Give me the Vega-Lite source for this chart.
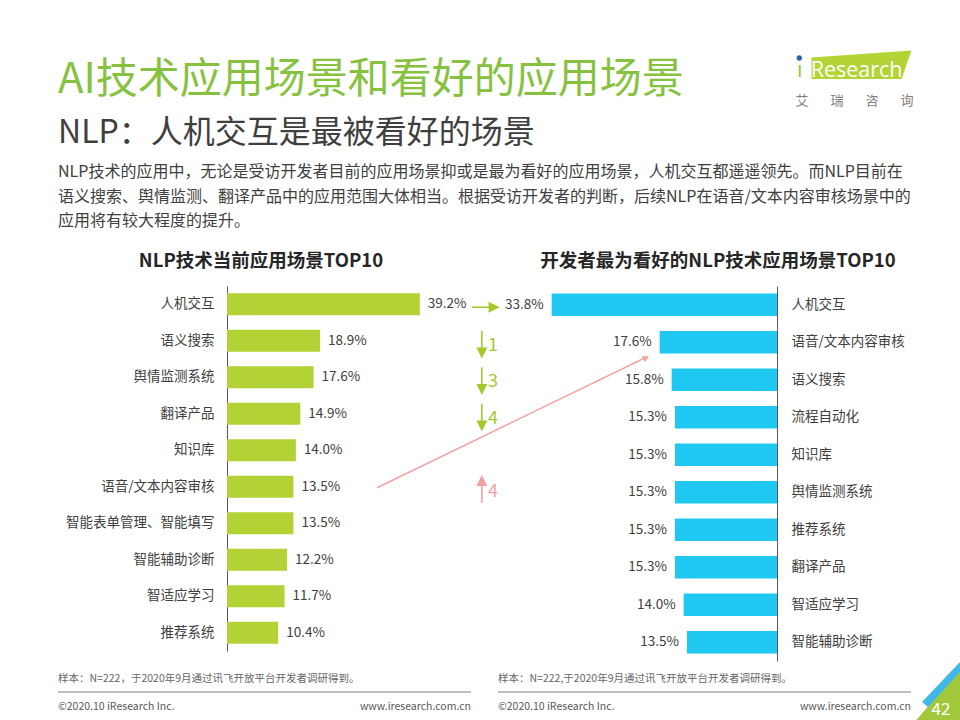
{
  "$schema": "https://vega.github.io/schema/vega-lite/v6.json",
  "background": "white",
  "padding": {"left": 57, "top": 50, "right": 0, "bottom": 0},
  "spacing": 0,
  "datasets": {
    "header": [
      {"kind": "title", "text": "AI技术应用场景和看好的应用场景"},
      {"kind": "subtitle", "text": "NLP：人机交互是最被看好的场景"}
    ],
    "para": [
      {"line": "NLP技术的应用中，无论是受访开发者目前的应用场景抑或是最为看好的应用场景，人机交互都遥遥领先。而NLP目前在"},
      {"line": "语义搜索、舆情监测、翻译产品中的应用范围大体相当。根据受访开发者的判断，后续NLP在语音/文本内容审核场景中的"},
      {"line": "应用将有较大程度的提升。"}
    ],
    "brand": [{"i": "ı", "rest": "Research"}],
    "brandcn": [{"ch": "艾"}, {"ch": "瑞"}, {"ch": "咨"}, {"ch": "询"}],
    "current": [
      {"item": "人机交互", "share": 0.392, "dir": "same", "move": 0, "from": 1, "to": 1},
      {"item": "语义搜索", "share": 0.189, "dir": "down", "move": 1, "from": 2, "to": 3},
      {"item": "舆情监测系统", "share": 0.176, "dir": "down", "move": 3, "from": 3, "to": 6},
      {"item": "翻译产品", "share": 0.149, "dir": "down", "move": 4, "from": 4, "to": 8},
      {"item": "知识库", "share": 0.140, "dir": "none", "move": 0},
      {"item": "语音/文本内容审核", "share": 0.135, "dir": "up", "move": 4, "from": 6, "to": 2},
      {"item": "智能表单管理、智能填写", "share": 0.135, "dir": "none", "move": 0},
      {"item": "智能辅助诊断", "share": 0.122, "dir": "none", "move": 0},
      {"item": "智适应学习", "share": 0.117, "dir": "none", "move": 0},
      {"item": "推荐系统", "share": 0.104, "dir": "none", "move": 0}
    ],
    "favored": [
      {"item": "人机交互", "share": 0.338},
      {"item": "语音/文本内容审核", "share": 0.176},
      {"item": "语义搜索", "share": 0.158},
      {"item": "流程自动化", "share": 0.153},
      {"item": "知识库", "share": 0.153},
      {"item": "舆情监测系统", "share": 0.153},
      {"item": "推荐系统", "share": 0.153},
      {"item": "翻译产品", "share": 0.153},
      {"item": "智适应学习", "share": 0.140},
      {"item": "智能辅助诊断", "share": 0.135}
    ],
    "foot": [
      {"side": "left", "note": "样本：N=222，于2020年9月通过讯飞开放平台开发者调研得到。", "copy": "©2020.10 iResearch Inc.", "site": "www.iresearch.com.cn", "page": ""},
      {"side": "right", "note": "样本：N=222,于2020年9月通过讯飞开放平台开发者调研得到。", "copy": "©2020.10 iResearch Inc.", "site": "www.iresearch.com.cn", "page": "42"}
    ]
  },
  "vconcat": [
    {
      "bounds": "flush",
      "spacing": 38,
      "hconcat": [
        {
          "width": 700,
          "height": 107,
          "data": {"name": "header"},
          "encoding": {
            "x": {"datum": 0, "type": "quantitative", "scale": {"domain": [0, 1]}, "axis": null},
            "y": {"field": "kind", "type": "nominal", "scale": {"domain": ["title", "subtitle"]}, "axis": null},
            "text": {"field": "text"}
          },
          "layer": [
            {"transform": [{"filter": "datum.kind === 'title'"}], "mark": {"type": "text", "align": "left", "baseline": "middle", "fontSize": 42, "color": "#86c240"}},
            {"transform": [{"filter": "datum.kind === 'subtitle'"}], "mark": {"type": "text", "align": "left", "baseline": "middle", "fontSize": 32, "color": "#3f3f3f"}}
          ]
        },
        {
          "width": 117,
          "height": 58,
          "layer": [
            {
              "data": {"name": "brand"},
              "mark": {"type": "point", "shape": "M-1,-0.14L1,-0.28L0.8,0.29L-1,0.29Z", "size": 10000, "filled": true, "color": "#b4d334", "opacity": 1, "strokeWidth": 0},
              "encoding": {
                "x": {"datum": 0.56, "type": "quantitative", "scale": {"domain": [0, 1]}, "axis": null},
                "y": {"datum": 0.198, "type": "quantitative", "scale": {"domain": [0, 1], "reverse": true}, "axis": null}
              }
            },
            {
              "data": {"name": "brand"},
              "mark": {"type": "text", "align": "left", "baseline": "alphabetic", "font": "Open Sans", "fontSize": 22, "color": "#9cc635"},
              "encoding": {
                "x": {"datum": 0.009, "type": "quantitative", "scale": {"domain": [0, 1]}, "axis": null},
                "y": {"datum": 0.414, "type": "quantitative", "scale": {"domain": [0, 1], "reverse": true}, "axis": null},
                "text": {"field": "i"}
              }
            },
            {
              "data": {"name": "brand"},
              "mark": {"type": "point", "shape": "circle", "size": 28, "filled": true, "color": "#2a62ad", "opacity": 1},
              "encoding": {
                "x": {"datum": 0.028, "type": "quantitative", "scale": {"domain": [0, 1]}, "axis": null},
                "y": {"datum": 0.086, "type": "quantitative", "scale": {"domain": [0, 1], "reverse": true}, "axis": null}
              }
            },
            {
              "data": {"name": "brand"},
              "mark": {"type": "text", "align": "left", "baseline": "alphabetic", "font": "Open Sans", "fontSize": 21.5, "color": "white"},
              "encoding": {
                "x": {"datum": 0.125, "type": "quantitative", "scale": {"domain": [0, 1]}, "axis": null},
                "y": {"datum": 0.414, "type": "quantitative", "scale": {"domain": [0, 1], "reverse": true}, "axis": null},
                "text": {"field": "rest"}
              }
            },
            {
              "data": {"name": "brandcn"},
              "mark": {"type": "text", "align": "center", "baseline": "middle", "fontSize": 13, "color": "#7f7f7f"},
              "encoding": {
                "x": {"field": "ch", "type": "nominal", "sort": null, "scale": {"type": "point", "padding": 0.17}, "axis": null},
                "y": {"datum": 0.828, "type": "quantitative", "scale": {"domain": [0, 1], "reverse": true}, "axis": null},
                "text": {"field": "ch"}
              }
            }
          ],
          "resolve": {"scale": {"x": "independent", "y": "independent"}}
        }
      ]
    },
    {
      "width": 700,
      "height": 90.5,
      "data": {"name": "para"},
      "mark": {"type": "text", "align": "left", "baseline": "middle", "fontSize": 16, "color": "#404040"},
      "encoding": {
        "x": {"datum": 0, "type": "quantitative", "scale": {"domain": [0, 1]}, "axis": null},
        "y": {"field": "line", "type": "nominal", "sort": null, "scale": {"type": "point", "padding": 0, "range": [12.25, 61.25]}, "axis": null},
        "text": {"field": "line"}
      }
    },
    {
      "bounds": "flush",
      "spacing": 4,
      "hconcat": [
        {
          "width": 165,
          "height": 10,
          "data": {"values": []},
          "mark": "point",
          "encoding": {}
        },
        {
          "width": 246,
          "height": 365,
          "title": {"text": "NLP技术当前应用场景TOP10", "fontSize": 18.5, "fontWeight": "bold", "color": "#262626", "anchor": "middle", "frame": "group", "offset": 16, "dx": -89},
          "data": {"name": "current"},
          "layer": [
            {
              "encoding": {
                "y": {"field": "item", "type": "nominal", "sort": null, "scale": {"paddingInner": 0.4, "paddingOuter": 0.2},
                  "axis": {"title": null, "ticks": false, "domainColor": "#595959", "labelFontSize": 13.5, "labelColor": "#404040", "labelPadding": 13, "labelLimit": 300}}
              },
              "layer": [
                {
                  "mark": {"type": "bar", "color": "#b2d235"},
                  "encoding": {"x": {"field": "share", "type": "quantitative", "scale": {"domain": [0, 0.5]}, "axis": null}}
                },
                {
                  "mark": {"type": "text", "align": "left", "baseline": "middle", "dx": 8, "fontSize": 13.5, "color": "#404040"},
                  "encoding": {
                    "x": {"field": "share", "type": "quantitative", "scale": {"domain": [0, 0.5]}, "axis": null},
                    "text": {"field": "share", "type": "quantitative", "format": ".1%"}
                  }
                },
                {
                  "mark": {"type": "point", "filled": true, "size": 676, "strokeWidth": 1.6, "opacity": 1, "yOffset": 3},
                  "encoding": {
                    "x": {"datum": 0.518, "type": "quantitative", "scale": {"domain": [0, 0.5]}, "axis": null},
                    "shape": {"field": "dir", "type": "nominal", "legend": null,
                      "scale": {"domain": ["same", "down", "up", "none"], "range": ["M-0.77,0L0.68,0M0.58,-0.32L0.58,0.32L1.23,0Z", "M0,-1L0,0.45M-0.32,0.35L0.32,0.35L0,1Z", "M0,1L0,-0.45M-0.32,-0.35L0.32,-0.35L0,-1Z", "M0,0"]}},
                    "color": {"field": "dir", "type": "nominal", "legend": null,
                      "scale": {"domain": ["same", "down", "up", "none"], "range": ["#a4c92a", "#a4c92a", "#f4a0a0", "transparent"]}},
                    "stroke": {"field": "dir", "type": "nominal", "legend": null,
                      "scale": {"domain": ["same", "down", "up", "none"], "range": ["#a4c92a", "#a4c92a", "#f4a0a0", "transparent"]}}
                  }
                },
                {
                  "mark": {"type": "text", "align": "center", "baseline": "middle", "fontSize": 18, "dy": 5},
                  "encoding": {
                    "x": {"datum": 0.5407, "type": "quantitative", "scale": {"domain": [0, 0.5]}, "axis": null},
                    "text": {"condition": {"test": "datum.move > 0", "field": "move", "type": "quantitative"}, "value": ""},
                    "color": {"field": "dir", "type": "nominal", "legend": null,
                      "scale": {"domain": ["same", "down", "up", "none"], "range": ["#a4c92a", "#a4c92a", "#f4a0a0", "transparent"]}}
                  }
                }
              ]
            },
            {
              "transform": [{"filter": "datum.dir === 'up'"}],
              "encoding": {
                "y": {"field": "from", "type": "quantitative", "scale": {"domain": [0.5, 10.5], "reverse": true, "nice": false, "zero": false}, "axis": null}
              },
              "layer": [
                {
                  "mark": {"type": "rule", "color": "#f4a3a3", "strokeWidth": 1.5, "yOffset": 1, "y2Offset": 17},
                  "encoding": {
                    "x": {"datum": 0.305, "type": "quantitative", "scale": {"domain": [0, 0.5]}, "axis": null},
                    "x2": {"datum": 0.85},
                    "y2": {"field": "to"}
                  }
                },
                {
                  "mark": {"type": "point", "shape": "triangle-right", "angle": 334, "filled": true, "color": "#f4a3a3", "size": 50, "opacity": 1, "yOffset": 17},
                  "encoding": {
                    "x": {"datum": 0.852, "type": "quantitative", "scale": {"domain": [0, 0.5]}, "axis": null},
                    "y": {"field": "to", "type": "quantitative", "scale": {"domain": [0.5, 10.5], "reverse": true, "nice": false, "zero": false}, "axis": null}
                  }
                }
              ]
            }
          ],
          "resolve": {"scale": {"y": "independent"}}
        },
        {
          "width": 300,
          "height": 375,
          "title": {"text": "开发者最为看好的NLP技术应用场景TOP10", "fontSize": 18.5, "fontWeight": "bold", "color": "#262626", "anchor": "middle", "frame": "group", "offset": 16, "dx": 91},
          "data": {"name": "favored"},
          "encoding": {
            "y": {"field": "item", "type": "nominal", "sort": null, "scale": {"paddingInner": 0.4, "paddingOuter": 0.2},
              "axis": {"orient": "right", "title": null, "ticks": false, "domainColor": "#595959", "labelFontSize": 13.5, "labelColor": "#404040", "labelPadding": 14, "labelLimit": 300}},
            "x": {"field": "share", "type": "quantitative", "scale": {"domain": [0, 0.45], "reverse": true}, "axis": null}
          },
          "layer": [
            {"mark": {"type": "bar", "color": "#1ec8f0"}},
            {
              "mark": {"type": "text", "align": "right", "baseline": "middle", "dx": -8, "fontSize": 13.5, "color": "#404040"},
              "encoding": {"text": {"field": "share", "type": "quantitative", "format": ".1%"}}
            }
          ]
        }
      ]
    },
    {
      "bounds": "flush",
      "spacing": 27,
      "hconcat": [
        {
          "width": 413,
          "height": 58,
          "data": {"name": "foot"},
          "transform": [{"filter": "datum.side === 'left'"}],
          "layer": [
            {
              "mark": {"type": "rule", "color": "#bfbfbf", "strokeWidth": 2},
              "encoding": {
                "x": {"datum": 0, "type": "quantitative", "scale": {"domain": [0, 1]}, "axis": null},
                "x2": {"datum": 1},
                "y": {"datum": 0.483, "type": "quantitative", "scale": {"domain": [0, 1], "reverse": true}, "axis": null}
              }
            },
            {
              "mark": {"type": "text", "align": "left", "baseline": "middle", "fontSize": 10.5, "color": "#666666"},
              "encoding": {
                "x": {"datum": 0, "type": "quantitative", "scale": {"domain": [0, 1]}, "axis": null},
                "y": {"datum": 0.259, "type": "quantitative", "scale": {"domain": [0, 1], "reverse": true}, "axis": null},
                "text": {"field": "note"}
              }
            },
            {
              "mark": {"type": "text", "align": "left", "baseline": "middle", "fontSize": 10.5, "color": "#595959"},
              "encoding": {
                "x": {"datum": 0, "type": "quantitative", "scale": {"domain": [0, 1]}, "axis": null},
                "y": {"datum": 0.741, "type": "quantitative", "scale": {"domain": [0, 1], "reverse": true}, "axis": null},
                "text": {"field": "copy"}
              }
            },
            {
              "mark": {"type": "text", "align": "right", "baseline": "middle", "fontSize": 10.5, "color": "#595959"},
              "encoding": {
                "x": {"datum": 1, "type": "quantitative", "scale": {"domain": [0, 1]}, "axis": null},
                "y": {"datum": 0.741, "type": "quantitative", "scale": {"domain": [0, 1], "reverse": true}, "axis": null},
                "text": {"field": "site"}
              }
            }
          ]
        },
        {
          "width": 413,
          "height": 58,
          "data": {"name": "foot"},
          "transform": [{"filter": "datum.side === 'right'"}],
          "layer": [
            {
              "mark": {"type": "rule", "color": "#bfbfbf", "strokeWidth": 2},
              "encoding": {
                "x": {"datum": 0, "type": "quantitative", "scale": {"domain": [0, 1]}, "axis": null},
                "x2": {"datum": 1},
                "y": {"datum": 0.483, "type": "quantitative", "scale": {"domain": [0, 1], "reverse": true}, "axis": null}
              }
            },
            {
              "mark": {"type": "text", "align": "left", "baseline": "middle", "fontSize": 10.5, "color": "#666666"},
              "encoding": {
                "x": {"datum": 0, "type": "quantitative", "scale": {"domain": [0, 1]}, "axis": null},
                "y": {"datum": 0.259, "type": "quantitative", "scale": {"domain": [0, 1], "reverse": true}, "axis": null},
                "text": {"field": "note"}
              }
            },
            {
              "mark": {"type": "text", "align": "left", "baseline": "middle", "fontSize": 10.5, "color": "#595959"},
              "encoding": {
                "x": {"datum": 0, "type": "quantitative", "scale": {"domain": [0, 1]}, "axis": null},
                "y": {"datum": 0.741, "type": "quantitative", "scale": {"domain": [0, 1], "reverse": true}, "axis": null},
                "text": {"field": "copy"}
              }
            },
            {
              "mark": {"type": "text", "align": "right", "baseline": "middle", "fontSize": 10.5, "color": "#595959"},
              "encoding": {
                "x": {"datum": 1, "type": "quantitative", "scale": {"domain": [0, 1]}, "axis": null},
                "y": {"datum": 0.741, "type": "quantitative", "scale": {"domain": [0, 1], "reverse": true}, "axis": null},
                "text": {"field": "site"}
              }
            },
            {
              "mark": {"type": "point", "shape": "M-0.6,1L1,-0.87L1,1Z", "size": 3600, "filled": true, "color": "#a3c73a", "opacity": 1, "strokeWidth": 0},
              "encoding": {
                "x": {"datum": 1.0484, "type": "quantitative", "scale": {"domain": [0, 1]}, "axis": null},
                "y": {"datum": 0.517, "type": "quantitative", "scale": {"domain": [0, 1], "reverse": true}, "axis": null}
              }
            },
            {
              "mark": {"type": "point", "shape": "M-0.95,0.9L1,-1.15L1,-0.65L-0.65,1.15Z", "size": 1600, "filled": true, "color": "#3fb8e8", "opacity": 1, "strokeWidth": 0},
              "encoding": {
                "x": {"datum": 1.0726, "type": "quantitative", "scale": {"domain": [0, 1]}, "axis": null},
                "y": {"datum": 0.345, "type": "quantitative", "scale": {"domain": [0, 1], "reverse": true}, "axis": null}
              }
            },
            {
              "mark": {"type": "text", "align": "center", "baseline": "middle", "fontSize": 17, "color": "white"},
              "encoding": {
                "x": {"datum": 1.0726, "type": "quantitative", "scale": {"domain": [0, 1]}, "axis": null},
                "y": {"datum": 0.793, "type": "quantitative", "scale": {"domain": [0, 1], "reverse": true}, "axis": null},
                "text": {"field": "page"}
              }
            }
          ]
        }
      ]
    }
  ],
  "config": {
    "view": {"stroke": null},
    "font": "Noto Sans CJK SC",
    "axis": {"labelFont": "Noto Sans CJK SC", "domainWidth": 1},
    "title": {"font": "Noto Sans CJK SC"}
  }
}
